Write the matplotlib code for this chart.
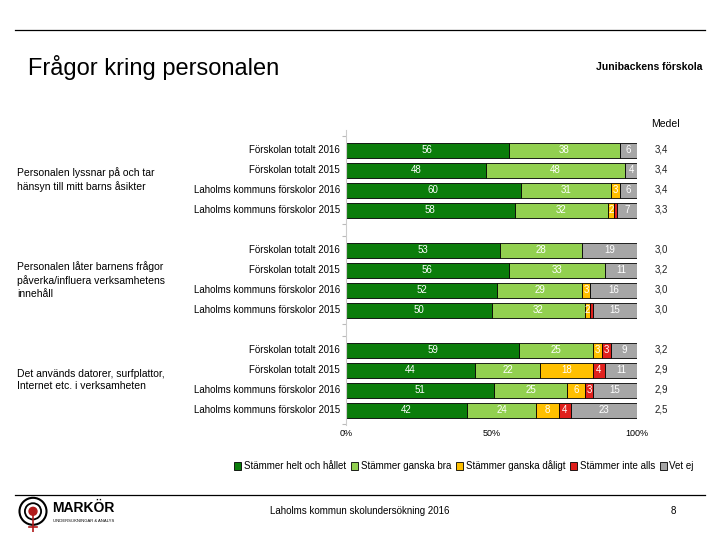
import numpy as np
import matplotlib.pyplot as plt
from matplotlib.patches import Patch, Circle
from matplotlib.lines import Line2D

plt.rcParams['font.family'] = ['Liberation Sans', 'DejaVu Sans']

questions = ["Personalen lyssnar på och tar\nhänsyn till mitt barns åsikter",
             "Personalen låter barnens frågor\npåverka/influera verksamhetens\ninnehåll",
             "Det används datorer, surfplattor,\nInternet etc. i verksamheten"]
rows = ["Förskolan totalt 2016", "Förskolan totalt 2015",
        "Laholms kommuns förskolor 2016", "Laholms kommuns förskolor 2015"]
categories = ["Stämmer helt och hållet", "Stämmer ganska bra", "Stämmer ganska dåligt",
              "Stämmer inte alls", "Vet ej"]
colors = ["#0b7d0b", "#92d050", "#ffc000", "#e0201c", "#a6a6a6"]

# values per question: rows x categories
q1 = [[56, 38, 0, 0, 6], [48, 48, 0, 0, 4], [60, 31, 3, 0, 6], [58, 32, 2, 1, 7]]
q2 = [[53, 28, 0, 0, 19], [56, 33, 0, 0, 11], [52, 29, 3, 0, 16], [50, 32, 2, 1, 15]]
q3 = [[59, 25, 3, 3, 9], [44, 22, 18, 4, 11], [51, 25, 6, 3, 15], [42, 24, 8, 4, 23]]
means = [["3,4", "3,4", "3,4", "3,3"], ["3,0", "3,2", "3,0", "3,0"], ["3,2", "2,9", "2,9", "2,5"]]

data = [q1, q2, q3]

W, H = 720, 540
fig = plt.figure(figsize=(7.2, 5.4), dpi=100)

# header / footer lines
fig.add_artist(Line2D([15/W, 705/W], [1-30/H, 1-30/H], color='black', lw=0.9))
fig.add_artist(Line2D([15/W, 705/W], [1-495/H, 1-495/H], color='black', lw=0.9))
fig.text(28/W, 1-67/H, "Frågor kring personalen", fontsize=17, va='center', ha='left')
fig.text(703/W, 1-67/H, "Junibackens förskola", fontsize=7.5, fontweight='bold', va='center', ha='right')

ax = fig.add_axes([346/W, 1-425/H, (637-346)/W, (425-130)/H])
ax.set_xlim(0, 100)
ax.set_ylim(13.75, -1)

for g, q in enumerate(data):
    for r, vals in enumerate(q):
        y = g*5 + r
        scale = 100.0 / sum(vals)  # rounded shares -> full-width bars
        left = 0
        for c, v in enumerate(vals):
            if v > 0:
                w = v * scale
                ax.barh(y, w, left=left, height=0.75, color=colors[c], edgecolor='black', linewidth=0.6)
                if v >= 2:
                    ax.text(left + w/2, y, str(v), ha='center', va='center', color='white', fontsize=7)
                left += w
        ax.text(-2, y, rows[r], ha='right', va='center', fontsize=7, clip_on=False)
        ax.text(106, y, means[g][r], ha='left', va='center', fontsize=7, color='#222222', clip_on=False)
    ax.text(-113, g*5 + 1.5, questions[g], ha='left', va='center', fontsize=7.5,
            linespacing=1.35, clip_on=False)

ax.text(105, -1.3, "Medel", ha='left', va='center', fontsize=7.5, clip_on=False)

ax.set_xticks([0, 50, 100])
ax.set_xticklabels(["0%", "50%", "100%"], fontsize=6.5)
ax.tick_params(axis='x', length=0, pad=3)
ax.set_yticks([-0.7 + 5*g for g in range(3)] + [3.7 + 5*g for g in range(3)])
ax.set_yticklabels([])
ax.tick_params(axis='y', length=3, color='#bbbbbb')
for s in ['top', 'right', 'bottom']:
    ax.spines[s].set_visible(False)
ax.spines['left'].set_color('#cccccc')

handles = [Patch(facecolor=col, edgecolor='black', linewidth=0.6) for col in colors]
fig.legend(handles, categories, loc='center', bbox_to_anchor=(464/W, 1-466/H), ncol=5,
           frameon=False, fontsize=7, handlelength=0.75, handleheight=0.75,
           handletextpad=0.25, columnspacing=0.5, borderpad=0)

# footer
fig.text(360/W, 1-511/H, "Laholms kommun skolundersökning 2016", fontsize=7, ha='center', va='center')
fig.text(673/W, 1-511/H, "8", fontsize=7, ha='center', va='center')
fig.text(52/W, 1-508/H, "MARKÖR", fontsize=10, fontweight='bold', ha='left', va='center')
fig.text(53/W, 1-521/H, "UNDERSÖKNINGAR & ANALYS", fontsize=3, ha='left', va='center')
lax = fig.add_axes([15/W, 1-532/H, 36/W, 36/H])
lax.set_xlim(-1, 1)
lax.set_ylim(-1, 1)
lax.set_aspect('equal')
lax.axis('off')
lax.add_patch(Circle((0, 0.15), 0.75, fill=False, edgecolor='black', lw=1.5))
lax.add_patch(Circle((0, 0.15), 0.45, fill=False, edgecolor='black', lw=1.3))
lax.add_patch(Circle((0, 0.15), 0.22, color='#b01a1a'))
lax.plot([0, 0], [0.0, -1], color='#b01a1a', lw=1.2)
lax.plot([-0.2, 0.2], [-0.7, -0.7], color='#b01a1a', lw=1.2)

fig.savefig("out.png", dpi=100)
